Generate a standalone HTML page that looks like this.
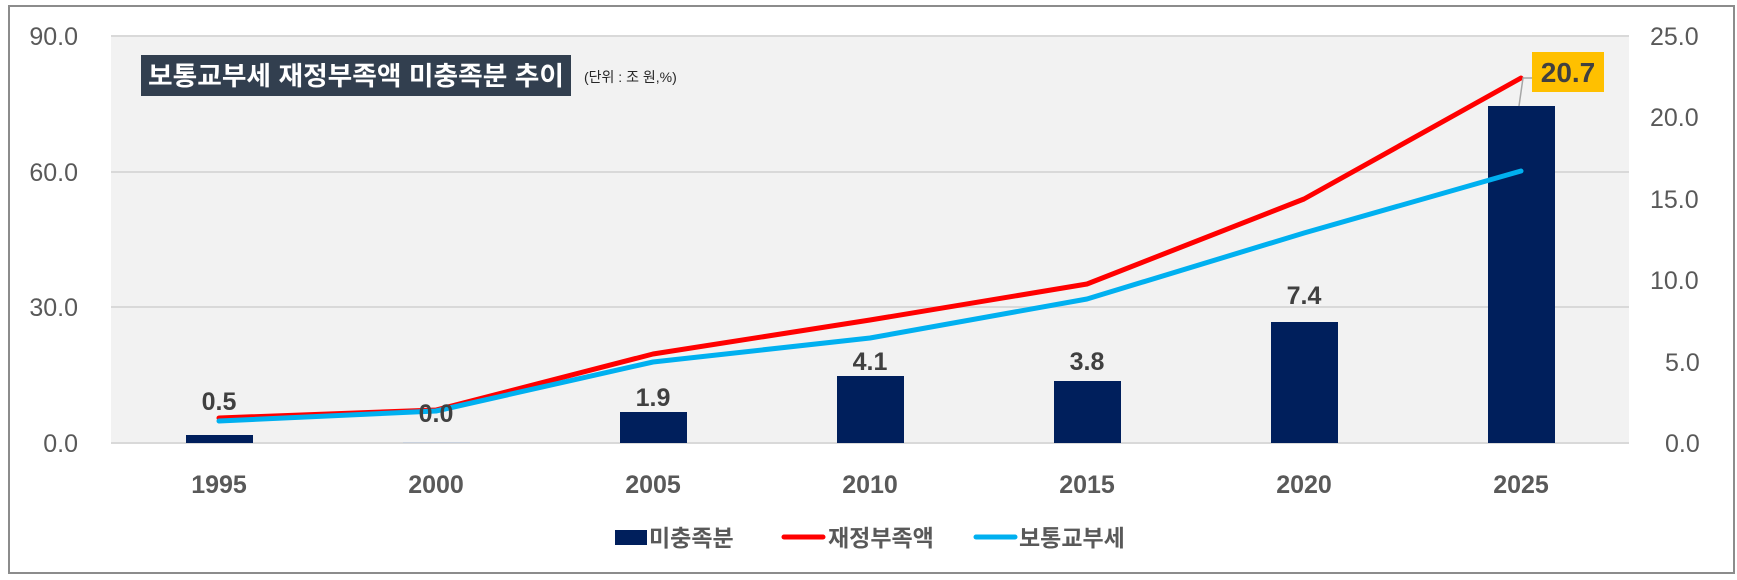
<!DOCTYPE html>
<html><head><meta charset="utf-8"><style>
html,body{margin:0;padding:0;background:#fff;}
svg{display:block;}
text{font-family:"Liberation Sans","Noto Sans CJK KR",sans-serif;}
</style></head><body>
<svg width="1737" height="580" viewBox="0 0 1737 580" xmlns="http://www.w3.org/2000/svg">
<rect x="0" y="0" width="1737" height="580" fill="#fff"/>
<rect x="9" y="6" width="1725" height="567" fill="#fff" stroke="#8c8c8c" stroke-width="2"/>
<rect x="111" y="36" width="1518" height="407" fill="#f2f2f2"/>
<g stroke="#d9d9d9" stroke-width="2">
<line x1="111" y1="36" x2="1629" y2="36"/>
<line x1="111" y1="172" x2="1629" y2="172"/>
<line x1="111" y1="307" x2="1629" y2="307"/>
<line x1="111" y1="443" x2="1629" y2="443"/>
</g>
<g font-size="25" fill="#595959" text-anchor="end">
<text x="78" y="45">90.0</text>
<text x="78" y="181">60.0</text>
<text x="78" y="316">30.0</text>
<text x="78" y="452">0.0</text>
</g>
<g font-size="25" fill="#595959" text-anchor="start">
<text x="1650" y="45">25.0</text>
<text x="1650" y="126">20.0</text>
<text x="1650" y="208">15.0</text>
<text x="1650" y="289">10.0</text>
<text x="1665" y="371">5.0</text>
<text x="1665" y="452">0.0</text>
</g>
<g fill="#001f5c">
<rect x="186" y="435" width="67" height="8"/>
<rect x="403" y="442" width="67" height="1" fill="#c8d0dc"/>
<rect x="620" y="412" width="67" height="31"/>
<rect x="837" y="376" width="67" height="67"/>
<rect x="1054" y="381" width="67" height="62"/>
<rect x="1271" y="322" width="67" height="121"/>
<rect x="1488" y="106" width="67" height="337"/>
</g>
<polyline points="219,418 436,410 653,354 870,320 1087,284 1304,199 1521,78" fill="none" stroke="#ff0000" stroke-width="5" stroke-linecap="round" stroke-linejoin="round"/>
<polyline points="219,421 436,411 653,362 870,338 1087,299 1304,233 1521,171" fill="none" stroke="#00b0f0" stroke-width="5" stroke-linecap="round" stroke-linejoin="round"/>
<g font-size="25" fill="#404040" text-anchor="middle" font-weight="bold">
<text x="219" y="410">0.5</text>
<text x="436" y="422">0.0</text>
<text x="653" y="406">1.9</text>
<text x="870" y="370">4.1</text>
<text x="1087" y="370">3.8</text>
<text x="1304" y="304">7.4</text>
</g>
<polyline points="1519,106 1523,78 1533,78" fill="none" stroke="#a6a6a6" stroke-width="1.5"/>
<rect x="1532" y="52" width="72" height="40" fill="#ffc000"/>
<text x="1568" y="82" font-size="28" fill="#404040" text-anchor="middle" font-weight="bold">20.7</text>
<g font-size="25" fill="#595959" text-anchor="middle" font-weight="bold">
<text x="219" y="493">1995</text>
<text x="436" y="493">2000</text>
<text x="653" y="493">2005</text>
<text x="870" y="493">2010</text>
<text x="1087" y="493">2015</text>
<text x="1304" y="493">2020</text>
<text x="1521" y="493">2025</text>
</g>
<rect x="141" y="55" width="430" height="41" fill="#323f4f"/>
<text x="356" y="85" font-size="26" fill="#fff" text-anchor="middle" font-weight="bold" textLength="416" lengthAdjust="spacingAndGlyphs">보통교부세 재정부족액 미충족분 추이</text>
<text x="584" y="82" font-size="14" fill="#262626">(단위 : 조 원,%)</text>
<rect x="615" y="530" width="32" height="15" fill="#001f5c"/>
<text x="649" y="546" font-size="23" fill="#595959" font-weight="bold">미충족분</text>
<line x1="784" y1="537" x2="823" y2="537" stroke="#ff0000" stroke-width="5" stroke-linecap="round"/>
<text x="828" y="546" font-size="23" fill="#595959" font-weight="bold">재정부족액</text>
<line x1="976" y1="537" x2="1015" y2="537" stroke="#00b0f0" stroke-width="5" stroke-linecap="round"/>
<text x="1019" y="546" font-size="23" fill="#595959" font-weight="bold">보통교부세</text>
</svg>
</body></html>
